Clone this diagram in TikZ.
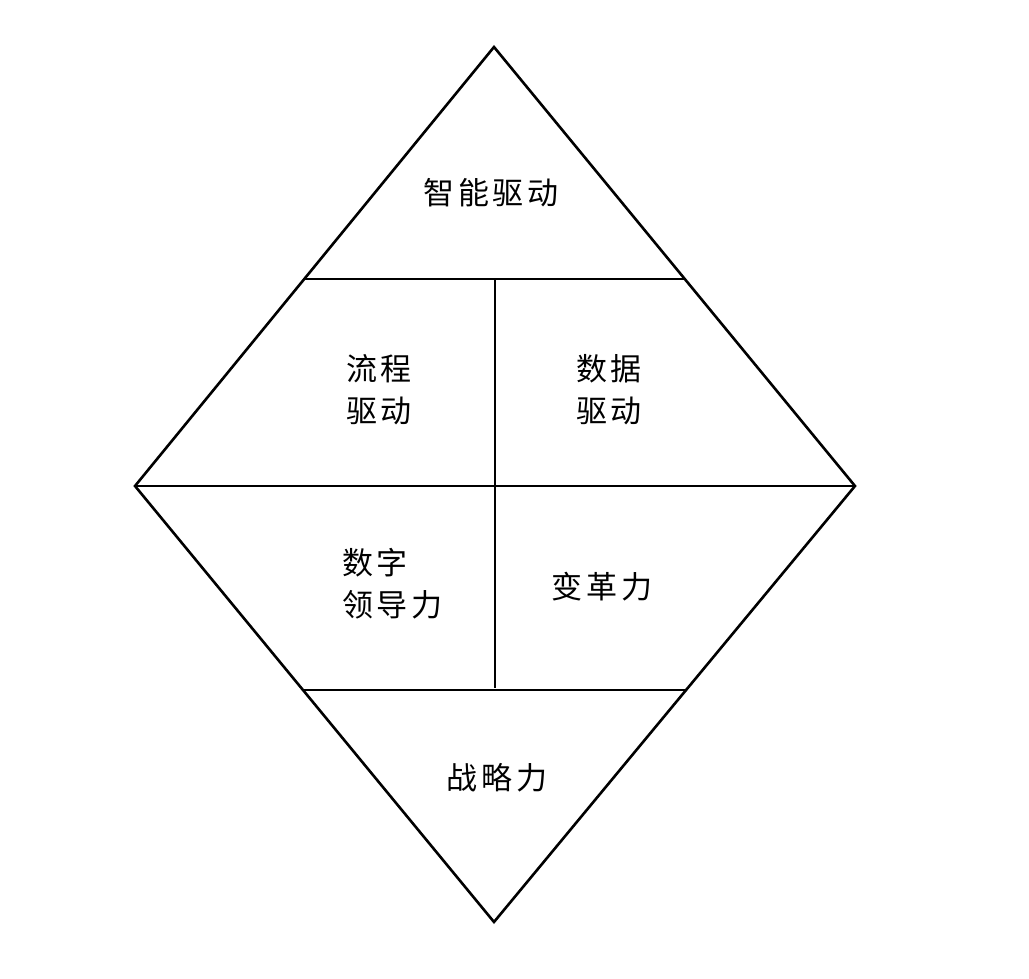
\documentclass[tikz,border=0pt]{standalone}
\usepackage{fontspec}
\usetikzlibrary{calc}
\newfontfamily\cjk[LetterSpace=12]{Noto Sans CJK SC}
\begin{document}
\begin{tikzpicture}[x=1pt,y=-1pt,line width=2.6pt,line join=miter,
  lbl/.style={font=\cjk\fontsize{31}{42}\selectfont,inner sep=0pt,align=left}]
\useasboundingbox (0,0) rectangle (1029,979);
\coordinate (T) at (494,47);
\coordinate (B) at (494,922);
\coordinate (L) at (135,486);
\coordinate (R) at (855,486);
\draw (T) -- (R) -- (B) -- (L) -- cycle;
\coordinate (h1l) at ($(T)!0.5285!(L)$);
\coordinate (h1r) at ($(T)!0.5285!(R)$);
\coordinate (h2l) at ($(B)!0.532!(L)$);
\coordinate (h2r) at ($(B)!0.532!(R)$);
\draw (h1l) -- (h1r);
\draw (L) -- (R);
\draw (h2l) -- (h2r);
\coordinate (vt) at (495,279);
\coordinate (vb) at (495,688);
\draw (vt) -- (vb);
\node[lbl] (a) at (491,193) {智能驱动};
\node[lbl] (b) at (379,390) {流程\\驱动};
\node[lbl] (c) at (609,390) {数据\\驱动};
\node[lbl,anchor=west] (d) at (341,584) {数字\\领导力};
\node[lbl] (e) at (602,587) {变革力};
\node[lbl] (f) at (497,778) {战略力};
\end{tikzpicture}
\end{document}
